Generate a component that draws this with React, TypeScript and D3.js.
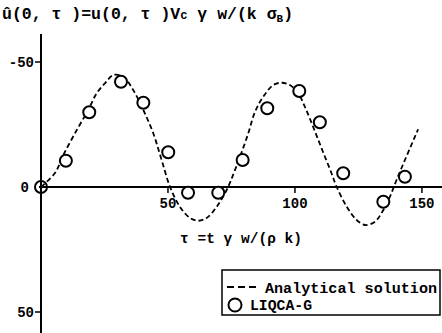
import React from "react";
import * as d3 from "d3";

// analytical solution
const curveTau = [0, 5.5, 8.8, 14.1, 18.6, 21.9, 25.2, 28.5, 32.4, 36.3, 40.3, 44.2, 47.5, 50.8, 54.7, 58.7, 61.9, 65.2, 69.2, 73.1, 76.4, 81.3, 84.3, 87.5, 91.5, 94.8, 98.0, 101.3, 103.9, 106.6, 109.2, 111.8, 114.4, 116.4, 120.4, 124.3, 127.6, 131.5, 134.8, 137.4, 140.0, 143.3, 148.5];
const curveVal = [0, -5.6, -12.8, -22.8, -30.8, -37.5, -41.5, -44.8, -44.1, -38.8, -30.8, -21.5, -10.8, -0.1, 7.9, 12.4, 13.5, 12.4, 7.9, 1.2, -6.8, -20.5, -30.1, -36.1, -40.8, -41.7, -40.8, -37.5, -32.1, -25.5, -18.8, -12.1, -5.5, -0.1, 7.9, 13.2, 15.2, 13.9, 9.2, 3.9, -2.8, -10.8, -23.1];

// LIQCA-G points
const pointTau = [0, 9.8, 19.0, 31.5, 40.3, 50.1, 57.9, 69.8, 79.4, 89.1, 101.7, 109.8, 119.0, 134.8, 143.3];
const pointVal = [0, -10.5, -29.9, -42.1, -33.7, -13.9, 2.3, 2.3, -10.8, -31.5, -38.4, -25.9, -5.5, 5.9, -4.1];

const xTicks = [50, 100, 150];
const yTicks = [-50, 50];

const W = 442;
const H = 333;
const font = "'Liberation Mono', 'DejaVu Sans Mono', monospace";

export default function App() {
  const x = d3.scaleLinear().domain([0, 157.9]).range([41, 442]);
  const y = d3.scaleLinear().domain([-61.2, 58.4]).range([34, 333]);

  const line = d3
    .line<number>()
    .x((d, i) => x(curveTau[i]))
    .y((d) => y(d))
    .curve(d3.curveCatmullRom.alpha(0.5));

  const x0 = x(0);
  const y0 = y(0);

  return (
    <svg
      width={W}
      height={H}
      style={{ position: "absolute", left: 0, top: 0, background: "#fff" }}
      fontFamily={font}
      fontWeight="bold"
    >
      {/* title */}
      <text x={2} y={19} fontSize={16.5}>
        û(0, τ )=u(0, τ )V<tspan fontSize={12}>c</tspan> γ w/(k σ
        <tspan fontSize={11} dy={3}>B</tspan>
        <tspan dy={-3}>)</tspan>
      </text>

      {/* axes */}
      <line x1={x0} x2={x0} y1={34} y2={H} stroke="#000" strokeWidth={2} />
      <line x1={x0 - 2} x2={W} y1={y0} y2={y0} stroke="#000" strokeWidth={2} />

      {xTicks.map((t) => (
        <g key={t}>
          <line x1={x(t)} x2={x(t)} y1={y0} y2={y0 + 6} stroke="#000" strokeWidth={1.5} />
          <text x={x(t)} y={208} fontSize={14} textAnchor="middle">
            {t}
          </text>
        </g>
      ))}
      {yTicks.map((t) => (
        <g key={t}>
          <line x1={x0 - 6} x2={x0} y1={y(t)} y2={y(t)} stroke="#000" strokeWidth={1.5} />
          <text x={x0 - 7} y={y(t) + 5} fontSize={14} textAnchor="end">
            {t < 0 ? "-" + Math.abs(t) : t}
          </text>
        </g>
      ))}
      <text x={x0 - 12} y={y0 + 5} fontSize={14} textAnchor="end">
        0
      </text>

      {/* x axis label */}
      <text x={180} y={243} fontSize={15} textLength={122} lengthAdjust="spacingAndGlyphs">
        τ =t γ w/(ρ k)
      </text>

      {/* analytical solution */}
      <path
        d={line(curveVal) || ""}
        fill="none"
        stroke="#000"
        strokeWidth={1.8}
        strokeDasharray="5,3"
      />

      {/* LIQCA-G */}
      {pointVal.map((v, i) => (
        <circle
          key={i}
          cx={x(pointTau[i])}
          cy={y(v)}
          r={6}
          fill={i === 0 ? "none" : "#fff"}
          stroke="#000"
          strokeWidth={2}
        />
      ))}

      {/* legend */}
      <g>
        <rect x={222} y={270} width={218} height={45} fill="#fff" stroke="#000" strokeWidth={1.5} />
        <line x1={227} x2={258} y1={287} y2={287} stroke="#000" strokeWidth={2} strokeDasharray="7,4" />
        <text x={265} y={293} fontSize={15} textLength={172} lengthAdjust="spacingAndGlyphs">
          Analytical solution
        </text>
        <circle cx={235} cy={305} r={6.5} fill="#fff" stroke="#000" strokeWidth={2} />
        <text x={250} y={310} fontSize={14} textLength={62} lengthAdjust="spacingAndGlyphs">
          LIQCA-G
        </text>
      </g>
    </svg>
  );
}
